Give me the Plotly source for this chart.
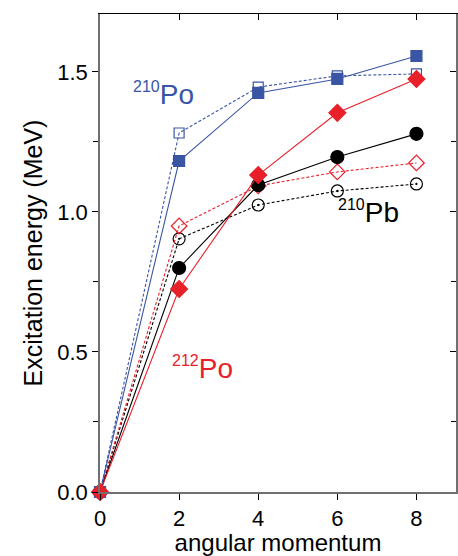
import plotly.graph_objects as go

L = [0, 2, 4, 6, 8]
po210_exp = [0, 1.182, 1.425, 1.475, 1.557]
po210_th = [0, 1.282, 1.446, 1.486, 1.493]
po212_exp = [0, 0.725, 1.132, 1.354, 1.475]
po212_th = [0, 0.950, 1.093, 1.143, 1.175]
pb210_exp = [0, 0.800, 1.096, 1.196, 1.279]
pb210_th = [0, 0.904, 1.025, 1.075, 1.100]

BLUE = "#3a55a4"
RED = "#e8202a"
BLACK = "#000000"

fig = go.Figure()

def add(y, color, dash, symbol, size):
    fig.add_trace(go.Scatter(
        x=L, y=y, mode="lines+markers",
        line=dict(color=color, width=1.1, dash=dash),
        marker=dict(symbol=symbol, size=size, color=color,
                    line=dict(color=color, width=1.2)),
        showlegend=False, cliponaxis=False))

add(pb210_th, BLACK, "3px,2px", "circle-open-dot", 12)
add(po212_th, RED, "3px,2px", "diamond-open", 12)
add(po210_th, BLUE, "3px,2px", "square-open", 10)
add(pb210_exp, BLACK, "solid", "circle", 13)
add(po210_exp, BLUE, "solid", "square", 11)
add(po212_exp, RED, "solid", "diamond", 13)

font = "Liberation Sans, Arial, Helvetica, sans-serif"
axcol = "#707070"

fig.update_layout(
    width=458, height=556,
    margin=dict(l=100, r=2, t=14, b=64),
    paper_bgcolor="white", plot_bgcolor="white",
    font=dict(family=font, size=22, color="black"),
    xaxis=dict(range=[0, 9], tickvals=[0, 2, 4, 6, 8], ticks="outside",
               ticklen=6, tickcolor="black", showline=True, linecolor=axcol,
               linewidth=1.5, showgrid=False, zeroline=False,
               title=dict(text="angular momentum", standoff=7,
                          font=dict(size=24)),
               tickfont=dict(size=22)),
    yaxis=dict(range=[0, 1.707], tickvals=[0, 0.5, 1.0, 1.5],
               ticktext=["0.0", "0.5", "1.0", "1.5"], ticks="outside",
               ticklen=6, tickcolor="black", showline=True, linecolor=axcol,
               linewidth=1.5, showgrid=False, zeroline=False,
               minor=dict(tickvals=[0.25, 0.75, 1.25], ticks="outside",
                          ticklen=5, tickcolor="black"),
               title=dict(text="Excitation energy (MeV)", standoff=8,
                          font=dict(size=25)),
               tickfont=dict(size=22)),
    xaxis2=dict(range=[0, 9], overlaying="x", side="top", anchor="y",
                tickvals=[2, 4, 6, 8], ticks="inside", ticklen=6,
                tickcolor="black", showticklabels=False, showline=True,
                linecolor="black", linewidth=1.2, showgrid=False,
                zeroline=False),
    yaxis2=dict(range=[0, 1.707], overlaying="y", side="right", anchor="x",
                tickvals=[0.5, 1.0, 1.5], ticks="inside", ticklen=6,
                tickcolor="black", showticklabels=False, showline=True,
                linecolor=axcol, linewidth=1.5, showgrid=False,
                zeroline=False,
                minor=dict(tickvals=[0.25, 0.75, 1.25], ticks="inside",
                           ticklen=5, tickcolor="black")),
)

fig.add_trace(go.Scatter(x=[None], y=[None], xaxis="x2", yaxis="y2",
                         showlegend=False, hoverinfo="skip"))

def label(x, y, mass, sym, color):
    fig.add_annotation(
        x=x, y=y,
        text='<sup><span style="font-size:16px">' + mass + '</span></sup>' + sym,
        showarrow=False, font=dict(color=color, size=28, family=font),
        xanchor="center", yanchor="middle")

label(1.60, 1.42, "210", "Po", BLUE)
label(6.79, 1.0, "210", "Pb", BLACK)
label(2.60, 0.443, "212", "Po", RED)

fig.write_html("out.html")
